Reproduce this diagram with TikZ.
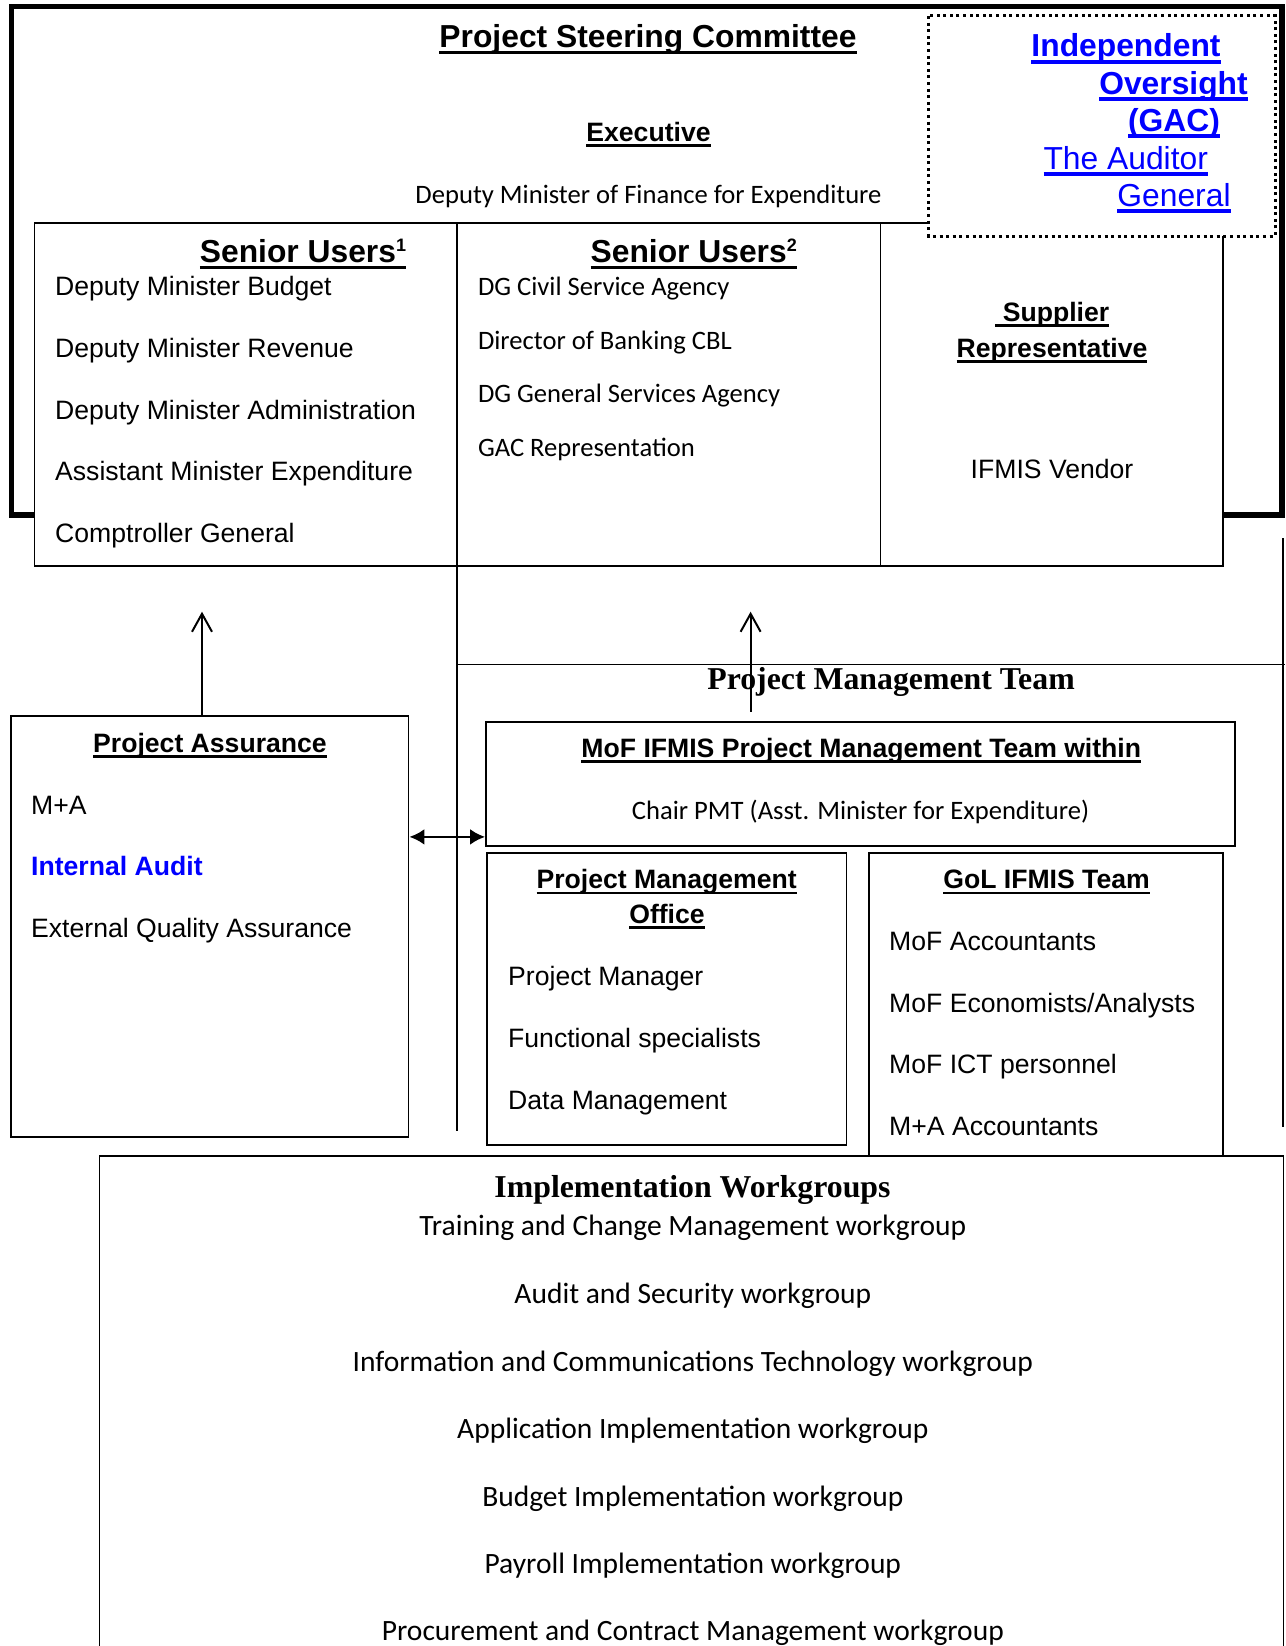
\documentclass[tikz,border=0pt]{standalone}
\usepackage{fontspec}
\setmainfont{Liberation Sans}
\newfontfamily\calib{Carlito}
\newfontfamily\timesbd{Liberation Serif}
\usetikzlibrary{arrows.meta}
\definecolor{linkblue}{RGB}{0,0,255}
\newcommand{\szbody}{\fontsize{26.6}{32}\selectfont}
\newcommand{\szbig}{\fontsize{31.8}{38}\selectfont}
\newcommand{\szwork}{\fontsize{29.5}{35}\selectfont}
\newcommand{\undl}[1]{\setbox0=\hbox{#1}\rlap{\rule[-0.21em]{\wd0}{0.1em}}\box0}
\newcommand{\supr}[1]{\raisebox{11pt}{\fontsize{18}{18}\selectfont #1}}

\begin{document}
\begin{tikzpicture}[x=1pt,y=-1pt,
  box/.style={draw, line width=1.8pt, fill=white, inner sep=0pt},
  lft/.style={anchor=base west, inner sep=0pt, font=\szbody},
  mid/.style={anchor=base, inner sep=0pt, font=\szbody},
  head/.style={anchor=base, inner sep=0pt, font=\szbody\bfseries},
  link/.style={anchor=base, inner sep=0pt, text=linkblue},
  up/.style={line width=2pt, -{Straight Barb[length=18pt,width=20pt]}},
  dbl/.style={line width=2.8pt, {Latex[length=15pt,width=16pt]}-{Latex[length=15pt,width=16pt]}}]
  \useasboundingbox (0,0) rectangle (1285,1646);
  \fill[white] (0,0) rectangle (1285,1646);

  \draw[line width=5.5pt] (11.5,6.5) rectangle (1282,515);   %Steering committee frame
  \draw[line width=1.8pt, fill=white] (34.5,222.7) rectangle (1222.7,566); %Senior users table
  \draw[line width=1.8pt] (457,222.7) -- (457,566) (880.5,222.7) -- (880.5,566);
  \draw[line width=3pt, dash pattern=on 3pt off 3.6pt, fill=white] (928.5,16) rectangle (1275,236); %GAC box

  \node[mid, font=\szbig\bfseries] (psc) at (648,47.5) {\undl{Project Steering Committee}};
  \node[head] (exec) at (648.5,141.5) {\undl{Executive}};
  \node[mid, font=\szbody\calib] (dmfe) at (648.5,203.5) {Deputy Minister of Finance for Expenditure};

  \node[link, font=\szbig\bfseries] (gac1) at (1126,57) {\undl{Independent}};
  \node[link, font=\szbig\bfseries] (gac2) at (1173.5,94) {\undl{Oversight}};
  \node[link, font=\szbig\bfseries] (gac3) at (1174,131) {\undl{(GAC)}};
  \node[link, font=\szbig] (gac4) at (1125.7,169) {\undl{The Auditor}};
  \node[link, font=\szbig] (gac5) at (1174,206) {\undl{General}};

  % Senior users
  \node[mid, font=\szbig\bfseries] (su1) at (303,262) {\undl{Senior Users\supr{1}}};
  \node[lft] (budget) at (55,295.5) {Deputy Minister Budget};
  \node[lft] (revenue) at (55,357.5) {Deputy Minister Revenue};
  \node[lft] (admin) at (55,419) {Deputy Minister Administration};
  \node[lft] (asstexp) at (55,480.5) {Assistant Minister Expenditure};
  \node[lft] (comptr) at (55,542.5) {Comptroller General};

  \node[mid, font=\szbig\bfseries] (su2) at (693.7,262) {\undl{Senior Users\supr{2}}};
  \node[lft, font=\szbody\calib] (csa) at (477.8,295.5) {DG Civil Service Agency};
  \node[lft, font=\szbody\calib] (cbl) at (477.8,349) {Director of Banking CBL};
  \node[lft, font=\szbody\calib] (gsa) at (477.8,402.5) {DG General Services Agency};
  \node[lft, font=\szbody\calib] (gacrep) at (477.8,456) {GAC Representation};

  \node[head] (supp) at (1052.3,321.2) {\undl{\ Supplier}};
  \node[head] (rep) at (1052,357.2) {\undl{Representative}};
  \node[mid] (vendor) at (1052,478.2) {IFMIS Vendor};

  % Project management team frame
  \draw[line width=1.5pt] (457,540) -- (457,1131);
  \draw[line width=1.5pt] (457,664.3) -- (1285,664.3);
  \draw[line width=1.5pt] (1283,538) -- (1283,1127);
  \node[mid, font=\szbig\timesbd\bfseries] (pmt) at (891,689.5) {Project Management Team};

  \node[box, minimum width=397.9pt, minimum height=421pt] (assure) at (209.55,926.5) {};
  \node[box, minimum width=749pt, minimum height=124.3pt] (mof) at (860.5,783.85) {};
  \node[box, minimum width=359.7pt, minimum height=292.3pt] (pmo) at (666.65,998.85) {};
  \node[box, minimum width=354pt, minimum height=317.3pt] (gol) at (1045.7,1011.35) {};
  \node[box, minimum width=1184pt, minimum height=544pt] (work) at (691.5,1428) {};

  \node[head] (pa) at (210,752.2) {\undl{Project Assurance}};
  \node[lft] (ma) at (31,814.5) {M+A};
  \node[lft, font=\szbody\bfseries, text=linkblue] (intaud) at (31,875.5) {Internal Audit};
  \node[lft] (eqa) at (31,937.8) {External Quality Assurance};

  \node[head] (moft) at (861.3,757.2) {\undl{MoF IFMIS Project Management Team within}};
  \node[mid, font=\szbody\calib] (chair) at (860.6,819.8) {Chair PMT (Asst. Minister for Expenditure)};

  \node[head] (pmo1) at (666.7,888.8) {\undl{Project Management}};
  \node[head] (pmo2) at (667,923.2) {\undl{Office}};
  \node[lft] (pm) at (508,985.5) {Project Manager};
  \node[lft] (func) at (508,1047.8) {Functional specialists};
  \node[lft] (data) at (508,1109.8) {Data Management};

  \node[head] (golt) at (1046.5,888.8) {\undl{GoL IFMIS Team}};
  \node[lft] (acc) at (889,950.5) {MoF Accountants};
  \node[lft] (econ) at (889,1012.2) {MoF Economists/Analysts};
  \node[lft] (ict) at (889,1073.8) {MoF ICT personnel};
  \node[lft] (maacc) at (889,1135.8) {M+A Accountants};

  % Workgroups
  \node[mid, font=\szbig\timesbd\bfseries] (workt) at (692.5,1197.2) {Implementation Workgroups};
  \node[mid, font=\szwork\calib] (wg1) at (692.8,1235.5) {Training and Change Management workgroup};
  \node[mid, font=\szwork\calib] (wg2) at (692.8,1303.8) {Audit and Security workgroup};
  \node[mid, font=\szwork\calib] (wg3) at (692.8,1371.5) {Information and Communications Technology workgroup};
  \node[mid, font=\szwork\calib] (wg4) at (692.8,1438.8) {Application Implementation workgroup};
  \node[mid, font=\szwork\calib] (wg5) at (692.8,1506.5) {Budget Implementation workgroup};
  \node[mid, font=\szwork\calib] (wg6) at (692.8,1573.8) {Payroll Implementation workgroup};
  \node[mid, font=\szwork\calib] (wg7) at (692.8,1640.5) {Procurement and Contract Management workgroup};

  % Arrows
  \coordinate (tipL) at (202,611.7);
  \coordinate (tipM) at (750.6,611.7);
  \coordinate (dblR) at ([yshift=10pt]mof.south west);
  \draw[up] (assure.north -| tipL) -- (tipL);
  \draw[up, shorten <=9pt] (mof.north -| tipM) -- (tipM);
  \draw[dbl] (assure.east |- dblR) -- (dblR);
\end{tikzpicture}
\end{document}
